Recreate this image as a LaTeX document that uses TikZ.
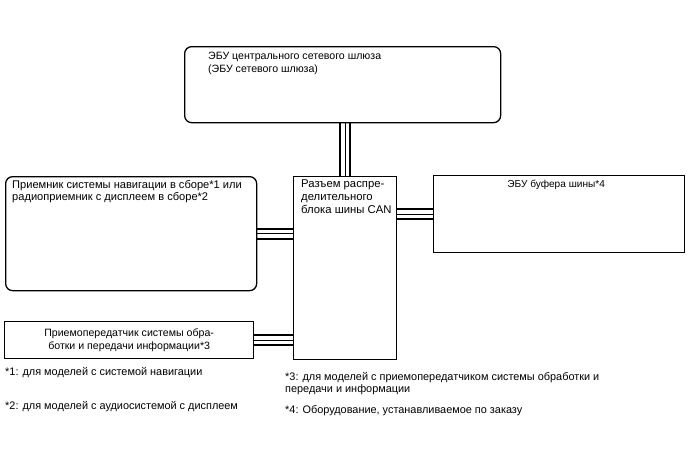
\documentclass[tikz,border=0pt]{standalone}
\usepackage{fontspec}
\setmainfont{Liberation Sans}
\usepackage{tikz}

\tikzset{
    unit/.style={draw, line width=1.3pt, inner sep=0pt, anchor=north west},
    roundunit/.style={unit, rounded corners=7pt},
    txt/.style={inner sep=0pt, font=\fontsize{10.9}{12.6}\selectfont, align=left},
    wire/.style={line width=2pt},
}

\begin{document}
\begin{tikzpicture}[x=1pt, y=-1pt]
    % Page frame (688 x 463 px)
    \useasboundingbox (0, 0) rectangle (688, 463);

    % Boxes
    \node[roundunit, minimum width=316pt, minimum height=76pt] (gw) at (184, 46) {};
    \node[roundunit, minimum width=251pt, minimum height=114pt] (nav) at (5, 176) {};
    \node[unit, minimum width=103pt, minimum height=183pt] (can) at (293, 176) {};
    \node[unit, minimum width=251pt, minimum height=77pt] (buf) at (433, 175) {};
    \node[unit, minimum width=249pt, minimum height=37pt] (dcm) at (4, 321) {};

    % Box texts
    \node[txt, font=\fontsize{10.6}{12.6}\selectfont, anchor=north west] (gwtxt) at ([shift={(24pt,-6pt)}]gw.north west)
        {ЭБУ центрального сетевого шлюза\\(ЭБУ сетевого шлюза)};
    \node[txt, font=\fontsize{11.1}{12.6}\selectfont, anchor=north west] (navtxt) at ([shift={(7pt,-4pt)}]nav.north west)
        {Приемник системы навигации в сборе*1 или\\радиоприемник с дисплеем в сборе*2};
    \node[txt, font=\fontsize{11.3}{12.6}\selectfont, anchor=north west] (cantxt) at ([shift={(8pt,-4pt)}]can.north west)
        {Разъем распре-\\делительного\\блока шины CAN};
    \node[txt, font=\fontsize{10.1}{12.6}\selectfont, anchor=north] (buftxt) at ([shift={(-3pt,-5pt)}]buf.north)
        {ЭБУ буфера шины*4};
    \node[txt, font=\fontsize{10.6}{12.6}\selectfont, align=center] (dcmtxt) at (dcm.center)
        {Приемопередатчик системы обра-\\ботки и передачи информации*3};

    % CAN bus wires (three lines each)
    \foreach \d/\w in {-5/1.8pt, 0/1.1pt, 5/2pt} {
        \draw[line width=\w] ([xshift=\d pt]can.north) -- ([xshift=\d pt]can.north |- gw.south);
        \draw[line width=\w] ([yshift=-\d pt]nav.east) -- ([yshift=-\d pt]nav.east -| can.west);
        \draw[line width=\w] ([yshift=-\d pt]buf.west) -- ([yshift=-\d pt]buf.west -| can.east);
        \draw[line width=\w] ([yshift=-\d pt]dcm.east) -- ([yshift=-\d pt]dcm.east -| can.west);
    }

    % Footnotes
    \node[txt, anchor=west] (fn1) at (5, 373) {*1: для моделей с системой навигации};
    \node[txt, anchor=west] (fn2) at (5, 407) {*2: для моделей с аудиосистемой с дисплеем};
    \node[txt, anchor=north west] (fn3) at (285, 372)
        {*3: для моделей с приемопередатчиком системы обработки и\\передачи и информации};
    \node[txt, anchor=west] (fn4) at (285, 411) {*4: Оборудование, устанавливаемое по заказу};
\end{tikzpicture}
\end{document}
